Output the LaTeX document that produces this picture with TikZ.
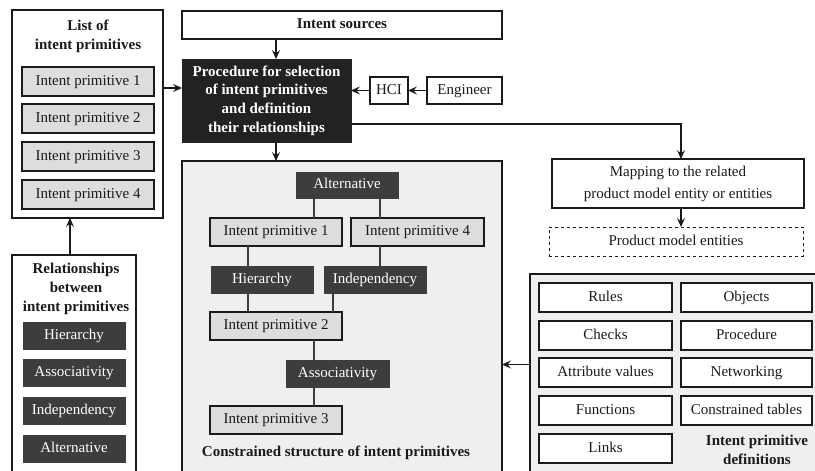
\documentclass[tikz,border=0pt]{standalone}
\usepackage{fontspec}
\setmainfont{Liberation Serif}
\usetikzlibrary{arrows.meta}
\definecolor{ipgray}{HTML}{DDDDDD}
\definecolor{panel}{HTML}{EFEFEF}
\definecolor{dk}{HTML}{3D3D3D}
\definecolor{proc}{HTML}{222222}
\definecolor{ink}{HTML}{1A1A1A}
\begin{document}
\begin{tikzpicture}[x=1pt,y=-1pt,
  every node/.style={font=\fontsize{15}{19}\selectfont, text=ink, inner sep=0pt, outer sep=0pt},
  frame/.style={draw=ink, line width=1.1pt},
  oneline/.style={text height=10.5pt, text depth=3.2pt},
  ipbox/.style={frame, fill=ipgray, oneline},
  whitebox/.style={frame, fill=white, oneline},
  relbox/.style={fill=dk, draw=dk, text=white, oneline},
  title/.style={font=\fontsize{15}{19}\selectfont\bfseries, align=center},
  arr/.style={draw=ink, line width=1.1pt, -{Stealth[length=9pt,width=8pt,inset=3.5pt]}},
  link/.style={draw=dk, line width=1.1pt}]
\useasboundingbox (0,0) rectangle (815,471);
\clip (0,0) rectangle (815,471);
\fill[white] (0,0) rectangle (815,471);

% list of intent primitives
\node[frame, minimum width=151, minimum height=208] (list) at (87.5,114) {};
\node[title] (listT) at (88,36) {List of\\intent primitives};
\node[ipbox, minimum width=132, minimum height=29] (l1) at (88,81.5) {Intent primitive 1};
\node[ipbox, minimum width=132, minimum height=29] (l2) at (88,118.5) {Intent primitive 2};
\node[ipbox, minimum width=132, minimum height=29] (l3) at (88,156.5) {Intent primitive 3};
\node[ipbox, minimum width=132, minimum height=29] (l4) at (88,194.5) {Intent primitive 4};

% relationships between intent primitives
\node[frame, minimum width=124, minimum height=225] (rel) at (74,367.5) {};
\node[title] (relT) at (76,289) {Relationships\\between\\intent primitives};
\node[relbox, minimum width=102, minimum height=27] (r1) at (74,335.5) {Hierarchy};
\node[relbox, minimum width=102, minimum height=27] (r2) at (74,373) {Associativity};
\node[relbox, minimum width=102, minimum height=27] (r3) at (74,410.5) {Independency};
\node[relbox, minimum width=102, minimum height=27] (r4) at (74,448.5) {Alternative};

% sources and selection procedure
\node[whitebox, minimum width=320, minimum height=28, font=\fontsize{15}{19}\selectfont\bfseries] (src) at (342,25) {Intent sources};
\node[fill=proc, draw=proc, minimum width=169, minimum height=83, text=white, font=\fontsize{15}{18.7}\selectfont\bfseries, align=center] (proc) at (266.5,100.5) {Procedure for selection\\of intent primitives\\and definition\\their relationships};
\node[whitebox, minimum width=38, minimum height=27] (hci) at (389,90.5) {HCI};
\node[whitebox, minimum width=75, minimum height=27] (eng) at (464.5,90.5) {Engineer};

% product model mapping
\node[frame, fill=white, minimum width=252, minimum height=49, align=center, font=\fontsize{15}{22}\selectfont] (map) at (678,183.5) {Mapping to the related\\product model entity or entities};
\node[draw=ink, dashed, line width=0.8pt, fill=white, oneline, minimum width=254, minimum height=29] (pme) at (676,241.5) {Product model entities};

% intent primitive definitions
\node[frame, fill=panel, minimum width=300, minimum height=216] (def) at (680,382) {};
\node[whitebox, minimum width=133, minimum height=29] (d1) at (605.5,297.5) {Rules};
\node[whitebox, minimum width=133, minimum height=29] (d2) at (605.5,335.5) {Checks};
\node[whitebox, minimum width=133, minimum height=29] (d3) at (605.5,372.5) {Attribute values};
\node[whitebox, minimum width=133, minimum height=29] (d4) at (605.5,410.5) {Functions};
\node[whitebox, minimum width=133, minimum height=29] (d5) at (605.5,448.5) {Links};
\node[whitebox, minimum width=131, minimum height=29] (e1) at (746.5,297.5) {Objects};
\node[whitebox, minimum width=131, minimum height=29] (e2) at (746.5,335.5) {Procedure};
\node[whitebox, minimum width=131, minimum height=29] (e3) at (746.5,372.5) {Networking};
\node[whitebox, minimum width=131, minimum height=29] (e4) at (746.5,410.5) {Constrained tables};
\node[title] (defT) at (757,449.5) {Intent primitive\\definitions};

% constrained structure
\node[frame, fill=panel, minimum width=320, minimum height=329] (cons) at (342,325.5) {};
\node[title] (consT) at (336,453) {Constrained structure of intent primitives};
\node[relbox, minimum width=102, minimum height=26] (alt) at (347,185) {Alternative};
\node[ipbox, minimum width=132, minimum height=28] (c1) at (276,232) {Intent primitive 1};
\node[ipbox, minimum width=133, minimum height=28] (c4) at (417.5,232) {Intent primitive 4};
\node[relbox, minimum width=102, minimum height=27] (hier) at (262,279.5) {Hierarchy};
\node[relbox, minimum width=102, minimum height=27] (indep) at (375,279.5) {Independency};
\node[ipbox, minimum width=132, minimum height=28] (c2) at (276,326) {Intent primitive 2};
\node[relbox, minimum width=103, minimum height=27] (assoc) at (337.5,373.5) {Associativity};
\node[ipbox, minimum width=132, minimum height=28] (c3) at (276,420) {Intent primitive 3};

% guide coordinates for connector positions
\coordinate (xa) at (314,0);
\coordinate (xb) at (380,0);
\coordinate (xc) at (248,0);
\coordinate (xd) at (333,0);
\coordinate (xp) at (276,0);
\coordinate (xm) at (681,0);
\coordinate (xr) at (70,0);
\coordinate (yl) at (0,88);
\coordinate (yr) at (0,124);
\coordinate (yd) at (0,364.5);

% structure links
\draw[link] (alt.south -| xa) -- (c1.north -| xa);
\draw[link] (alt.south -| xb) -- (c4.north -| xb);
\draw[link] (c1.south -| xc) -- (hier.north -| xc);
\draw[link] (c4.south -| xb) -- (indep.north -| xb);
\draw[link] (hier.south -| xc) -- (c2.north -| xc);
\draw[link] (indep.south -| xd) -- (c2.north -| xd);
\draw[link] (c2.south -| xa) -- (assoc.north -| xa);
\draw[link] (assoc.south -| xa) -- (c3.north -| xa);

% flow arrows
\draw[arr] (rel.north -| xr) -- (list.south -| xr);
\draw[arr] (list.east |- yl) -- (proc.west |- yl);
\draw[arr] (src.south -| xp) -- (proc.north -| xp);
\draw[arr] (proc.south -| xp) -- (cons.north -| xp);
\draw[arr] (eng.west) -- (hci.east);
\draw[arr] (hci.west) -- (proc.east |- hci.west);
\draw[arr] (proc.east |- yr) -| (map.north -| xm);
\draw[arr] (map.south -| xm) -- (pme.north -| xm);
\draw[arr] (def.west |- yd) -- (cons.east |- yd);
\end{tikzpicture}
\end{document}
